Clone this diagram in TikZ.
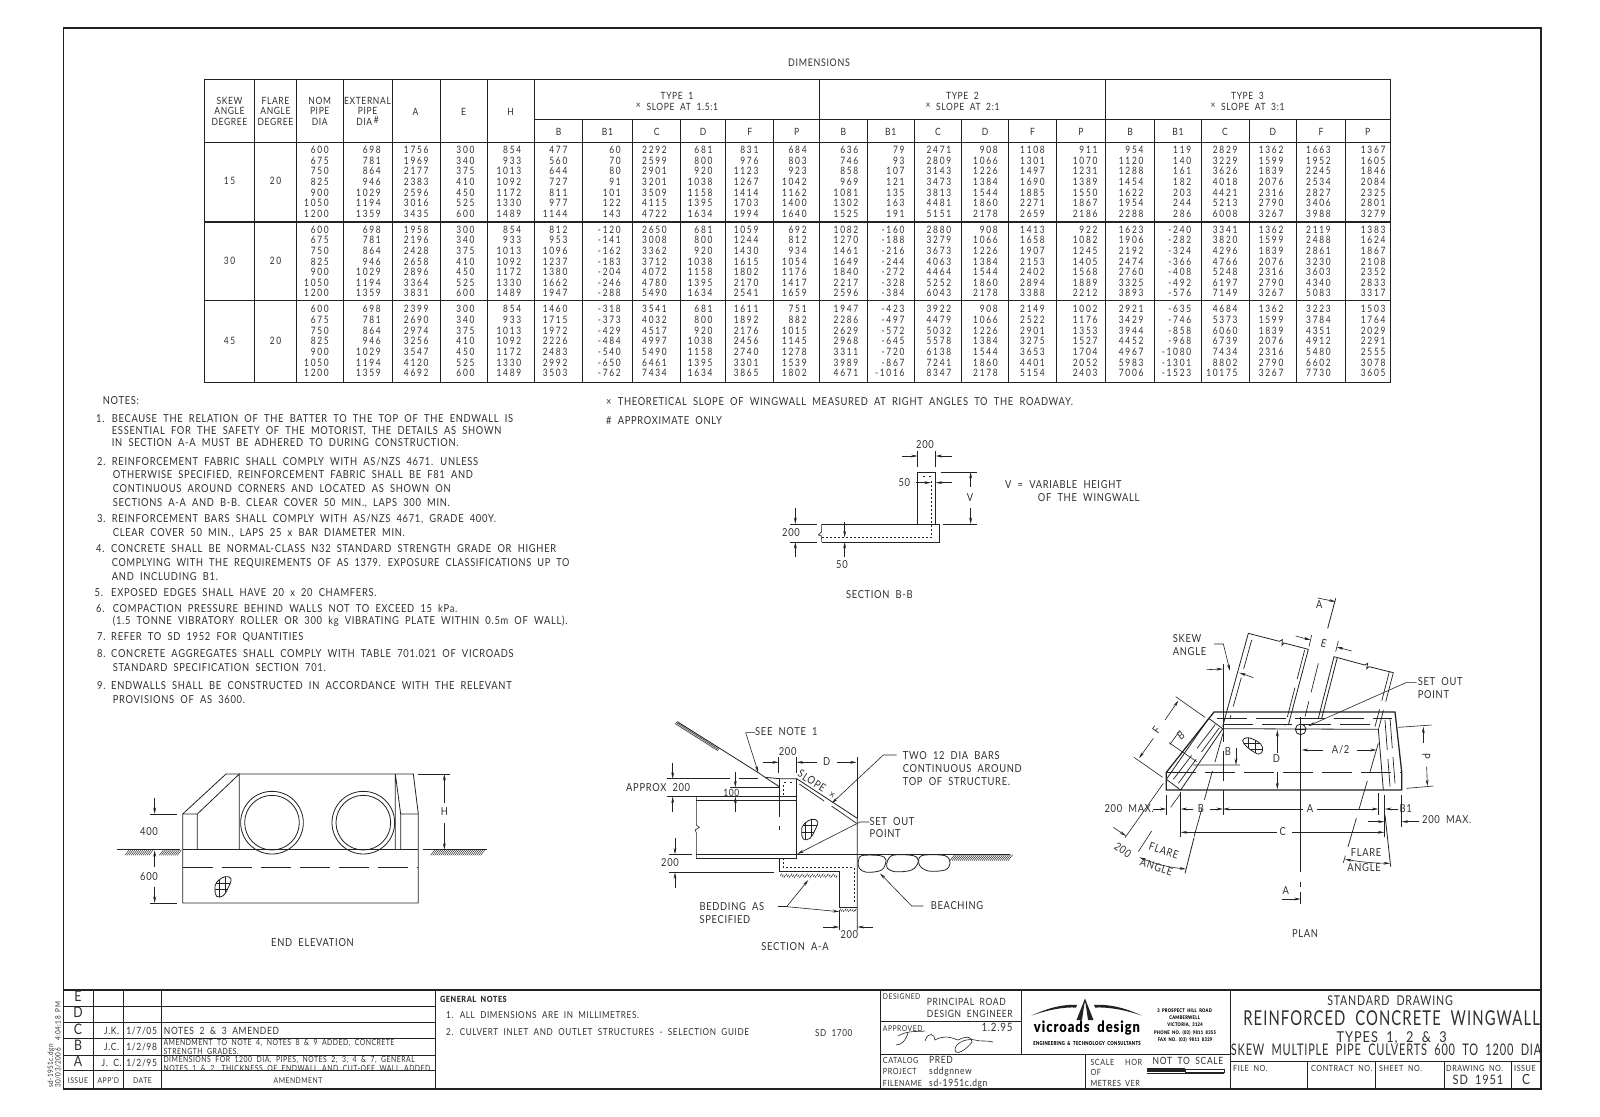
\documentclass[tikz,border=0pt]{standalone}
\usepackage{fontspec}
\usepackage{graphicx}
\setmainfont{Lato}[FakeStretch=.85,LetterSpace=6.3,WordSpace=2,BoldFont={Lato Black}]
\newfontfamily\tabfont{Lato}[FakeStretch=.82,LetterSpace=17]
\usetikzlibrary{arrows.meta,calc}
\definecolor{ink}{HTML}{222222}
\definecolor{txt}{HTML}{303030}
\tikzset{
 lbl/.style={inner sep=0pt,text=txt,yshift=-1pt,font=\fontsize{11}{13}\selectfont},
 ln/.style={line width=.8pt,draw=ink},
 thn/.style={line width=.6pt,draw=ink},
 hat/.style={line width=.45pt,draw=ink},
 thk/.style={line width=1.25pt,draw=ink},
 dsh/.style={line width=.7pt,draw=ink,dash pattern=on 30pt off 9pt},
 dot/.style={line width=.6pt,draw=ink,dash pattern=on 2pt off 2pt},
 dim/.style={line width=.6pt,draw=ink,-{Stealth[length=6.5pt,width=2.8pt]}},
 dbl/.style={line width=.6pt,draw=ink,{Stealth[length=6.5pt,width=2.8pt]}-{Stealth[length=6.5pt,width=2.8pt]}},
 zoomed/.style={shift={(#1)},scale=0.33333}
}
\newcounter{tn}
\newcommand\T[4][]{\stepcounter{tn}\node[lbl,anchor=mid west,#1] (t\arabic{tn}) at (#2,#3) {#4};}
\newcommand\C[4][]{\stepcounter{tn}\node[lbl,anchor=mid,#1] (t\arabic{tn}) at (#2,#3) {#4};}
\newcommand\TS{\fontsize{10}{12}\selectfont}
\newcommand\TD{\tabfont\fontsize{10.2}{12}\selectfont}
\newcommand\TN{\fontsize{9.6}{11}\selectfont}
\newcommand\TM{\fontsize{8.5}{10}\selectfont}
\newcommand\col[2]{\foreach \v [count=\i from 0] in {#2}{%
  \pgfmathsetmacro\yy{150+79.7*int(\i/7)+10.62*mod(\i,7)}%
  \stepcounter{tn}\node[lbl,anchor=mid east,font=\TD] (t\arabic{tn}) at (#1,\yy) {\v};}}
\newcommand\blobat[2]{%
 \begin{scope}[shift={(#1,#2)}]
 \draw[ln] plot[smooth cycle,tension=.7] coordinates {(5,20)(30,3)(48,10)(40,35)(25,60)(5,62)(0,40)};
 \begin{scope}\clip plot[smooth cycle,tension=.7] coordinates {(5,20)(30,3)(48,10)(40,35)(25,60)(5,62)(0,40)};
 \draw[thn] (-5,22)--(55,22) (-5,42)--(55,42) (12,0)--(12,70) (30,0)--(30,70);\end{scope}
 \end{scope}}
\newcommand\plotblob{%
 \draw[ln] plot[smooth cycle,tension=.7] coordinates {(518,512)(532,503)(552,509)(572,522)(578,540)(568,552)(552,546)(530,530)};
 \begin{scope}\clip plot[smooth cycle,tension=.7] coordinates {(518,512)(532,503)(552,509)(572,522)(578,540)(568,552)(552,546)(530,530)};
 \draw[thn] (510,520)--(585,520) (510,538)--(585,538) (536,500)--(536,555) (556,500)--(556,555);\end{scope}}
\begin{document}
\begin{tikzpicture}[x=1pt,y=-1pt]
\useasboundingbox[fill=white] (0,0) rectangle (1600,1116);
% outer border
\draw[thk] (63.3,28) rectangle (1541,1089);
\C[font=\fontsize{10.5}{12}\selectfont]{819}{62.5}{DIMENSIONS}
% ---------- TABLE
\draw[ln] (204.6,79) rectangle (1390,382.7);
\draw[ln] (534.4,119.7)--(1390,119.7);
\draw[ln] (204.6,142.7)--(1390,142.7);
\draw[thk] (204.6,222)--(1390,222) (204.6,300.3)--(1390,300.3);
\foreach \x in {254.5,296.4,343,392,439.9,487,534.4,819.7,1105.3}{\draw[ln] (\x,79)--(\x,382.7);}
\foreach \x in {582.6,632.5,680.7,725.8,773.6,867,914.5,961.6,1008.6,1056.4,1154.6,1201.2,1249,1296.8,1345.3}{\draw[ln] (\x,119.7)--(\x,382.7);}
\foreach \x/\a/\b/\c in {229.5/SKEW/ANGLE/DEGREE,275.5/FLARE/ANGLE/DEGREE,319.7/NOM/PIPE/DIA}{
 \C[font=\TS]{\x}{100.5}{\a}\C[font=\TS]{\x}{111}{\b}\C[font=\TS]{\x}{122}{\c}}
\C[font=\TS]{367.5}{100.5}{EXTERNAL}\C[font=\TS]{367.5}{111}{PIPE}\C[font=\TS]{367.5}{122}{DIA\,\raisebox{2pt}{\#}}
\C[font=\TS]{415.5}{111.5}{A}\C[font=\TS]{463.5}{111.5}{E}\C[font=\TS]{510.7}{111.5}{H}
\foreach \x/\t/\s in {677/1/1.5:1,962.5/2/2:1,1247.5/3/3:1}{
 \C[font=\TS]{\x}{95.5}{TYPE \t}\C[font=\TS]{\x}{106.5}{\raisebox{2pt}{×} SLOPE AT \s}}
\foreach \x/\t in {558.5/B,607.5/B1,656.6/C,703.2/D,749.7/F,796.6/P,843.3/B,890.7/B1,938/C,985.1/D,1032.5/F,1080.8/P,1130/B,1177.9/B1,1225/C,1272.9/D,1321/F,1367.6/P}{
 \C[font=\TS]{\x}{131.5}{\t}}
\C[font=\TD]{229.5}{181}{15}\C[font=\TD]{275.5}{181}{20}
\C[font=\TD]{229.5}{261}{30}\C[font=\TD]{275.5}{261}{20}
\C[font=\TD]{229.5}{341}{45}\C[font=\TD]{275.5}{341}{20}
\col{329}{600,675,750,825,900,1050,1200,600,675,750,825,900,1050,1200,600,675,750,825,900,1050,1200}
\col{381}{698,781,864,946,1029,1194,1359,698,781,864,946,1029,1194,1359,698,781,864,946,1029,1194,1359}
\col{428.8}{1756,1969,2177,2383,2596,3016,3435,1958,2196,2428,2658,2896,3364,3831,2399,2690,2974,3256,3547,4120,4692}
\col{474.7}{300,340,375,410,450,525,600,300,340,375,410,450,525,600,300,340,375,410,450,525,600}
\col{521.4}{854,933,1013,1092,1172,1330,1489,854,933,1013,1092,1172,1330,1489,854,933,1013,1092,1172,1330,1489}
\col{567.6}{477,560,644,727,811,977,1144,812,953,1096,1237,1380,1662,1947,1460,1715,1972,2226,2483,2992,3503}
\col{621}{60,70,80,91,101,122,143,-120,-141,-162,-183,-204,-246,-288,-318,-373,-429,-484,-540,-650,-762}
\col{667}{2292,2599,2901,3201,3509,4115,4722,2650,3008,3362,3712,4072,4780,5490,3541,4032,4517,4997,5490,6461,7434}
\col{712.7}{681,800,920,1038,1158,1395,1634,681,800,920,1038,1158,1395,1634,681,800,920,1038,1158,1395,1634}
\col{758.6}{831,976,1123,1267,1414,1703,1994,1059,1244,1430,1615,1802,2170,2541,1611,1892,2176,2456,2740,3301,3865}
\col{806.8}{684,803,923,1042,1162,1400,1640,692,812,934,1054,1176,1417,1659,751,882,1015,1145,1278,1539,1802}
\col{858.5}{636,746,858,969,1081,1302,1525,1082,1270,1461,1649,1840,2217,2596,1947,2286,2629,2968,3311,3989,4671}
\col{904.7}{79,93,107,121,135,163,191,-160,-188,-216,-244,-272,-328,-384,-423,-497,-572,-645,-720,-867,-1016}
\col{951.4}{2471,2809,3143,3473,3813,4481,5151,2880,3279,3673,4063,4464,5252,6043,3922,4479,5032,5578,6138,7241,8347}
\col{998}{908,1066,1226,1384,1544,1860,2178,908,1066,1226,1384,1544,1860,2178,908,1066,1226,1384,1544,1860,2178}
\col{1045}{1108,1301,1497,1690,1885,2271,2659,1413,1658,1907,2153,2402,2894,3388,2149,2522,2901,3275,3653,4401,5154}
\col{1097.7}{911,1070,1231,1389,1550,1867,2186,922,1082,1245,1405,1568,1889,2212,1002,1176,1353,1527,1704,2052,2403}
\col{1143.7}{954,1120,1288,1454,1622,1954,2288,1623,1906,2192,2474,2760,3325,3893,2921,3429,3944,4452,4967,5983,7006}
\col{1191.4}{119,140,161,182,203,244,286,-240,-282,-324,-366,-408,-492,-576,-635,-746,-858,-968,-1080,-1301,-1523}
\col{1237.7}{2829,3229,3626,4018,4421,5213,6008,3341,3820,4296,4766,5248,6197,7149,4684,5373,6060,6739,7434,8802,10175}
\col{1283.6}{1362,1599,1839,2076,2316,2790,3267,1362,1599,1839,2076,2316,2790,3267,1362,1599,1839,2076,2316,2790,3267}
\col{1331}{1663,1952,2245,2534,2827,3406,3988,2119,2488,2861,3230,3603,4340,5083,3223,3784,4351,4912,5480,6602,7730}
\col{1385.7}{1367,1605,1846,2084,2325,2801,3279,1383,1624,1867,2108,2352,2833,3317,1503,1764,2029,2291,2555,3078,3605}
% ---------- NOTES
\T{102.7}{400.7}{NOTES:}
\T{96}{418.7}{1.}\T{111.7}{418.7}{BECAUSE THE RELATION OF THE BATTER TO THE TOP OF THE ENDWALL IS}
\T{111.7}{430.7}{ESSENTIAL FOR THE SAFETY OF THE MOTORIST, THE DETAILS AS SHOWN}
\T{111.7}{442.7}{IN SECTION A-A MUST BE ADHERED TO DURING CONSTRUCTION.}
\T{97}{461.7}{2.}\T{111.7}{461.7}{REINFORCEMENT FABRIC SHALL COMPLY WITH AS/NZS 4671. UNLESS}
\T{112.7}{475.3}{OTHERWISE SPECIFIED, REINFORCEMENT FABRIC SHALL BE F81 AND}
\T{112.7}{489}{CONTINUOUS AROUND CORNERS AND LOCATED AS SHOWN ON}
\T{112.7}{502.7}{SECTIONS A-A AND B-B. CLEAR COVER 50 MIN., LAPS 300 MIN.}
\T{97}{519.3}{3.}\T{111.7}{519.3}{REINFORCEMENT BARS SHALL COMPLY WITH AS/NZS 4671, GRADE 400Y.}
\T{112.7}{533.3}{CLEAR COVER 50 MIN., LAPS 25 x BAR DIAMETER MIN.}
\T{96}{549.3}{4.}\T{111}{549.3}{CONCRETE SHALL BE NORMAL-CLASS N32 STANDARD STRENGTH GRADE OR HIGHER}
\T{111.7}{563}{\scalebox{.98}[1]{COMPLYING WITH THE REQUIREMENTS OF AS 1379. EXPOSURE CLASSIFICATIONS UP TO}}
\T{111.7}{576.7}{AND INCLUDING B1.}
\T{94.5}{593.3}{5.}\T{111}{593.3}{EXPOSED EDGES SHALL HAVE 20 x 20 CHAMFERS.}
\T{96}{609}{6.}\T{112.7}{609}{COMPACTION PRESSURE BEHIND WALLS NOT TO EXCEED 15 kPa.}
\T{112.7}{621}{(1.5 TONNE VIBRATORY ROLLER OR 300 kg VIBRATING PLATE WITHIN 0.5m OF WALL).}
\T{97}{636.7}{7.}\T{111}{636.7}{REFER TO SD 1952 FOR QUANTITIES}
\T{97}{654.3}{8.}\T{111}{654.3}{CONCRETE AGGREGATES SHALL COMPLY WITH TABLE 701.021 OF VICROADS}
\T{112.7}{668}{STANDARD SPECIFICATION SECTION 701.}
\T{97}{686}{9.}\T{111}{686}{ENDWALLS SHALL BE CONSTRUCTED IN ACCORDANCE WITH THE RELEVANT}
\T{112.7}{700}{PROVISIONS OF AS 3600.}
\T{606}{401.5}{× THEORETICAL SLOPE OF WINGWALL MEASURED AT RIGHT ANGLES TO THE ROADWAY.}
\T{606}{420.5}{\# APPROXIMATE ONLY}
% ---------- SECTION B-B
\begin{scope}[zoomed={740,420}]
\draw[ln] (533,312)--(533,156)--(587,156)--(587,312);
\draw[ln] (245,312)--(597,312)--(597,366)--(245,366);
\draw[thn] (245,312)--(245,335)--(235,345)--(245,348)--(245,366);
\draw[dot] (245,352)--(573,352)--(573,180);
\draw[dot] (550,170)--(556,170) (568,170)--(574,170);
\draw[dim] (487,108)--(533,108);\draw[dim] (635,108)--(587,108);
\draw[thn] (533,92)--(533,140) (587,92)--(587,140);
\C{555}{76}{200}
\C{493}{190}{50}
\draw[dim] (527,188)--(573,188);\draw[dim] (635,188)--(587,188);
\draw[thn] (602,156)--(710,156) (610,312)--(710,312);
\draw[dim] (692,200)--(692,156);\draw[dim] (692,265)--(692,312);
\C{690}{233}{V}
\draw[thn] (150,312)--(230,312) (150,366)--(230,366);
\draw[dim] (166,265)--(166,312);\draw[dim] (166,412)--(166,366);
\C{153}{340}{200}
\draw[dim] (314,305)--(314,352);\draw[dim] (314,412)--(314,366);
\C{306}{435}{50}
\T{795}{196}{V = VARIABLE HEIGHT}
\T{893}{234}{OF THE WINGWALL}
\C{418}{524}{SECTION B-B}
\end{scope}
% ---------- PLAN
\begin{scope}[zoomed={1070,570}]
\draw[thk] (289,607)--(289,660)--(995,660)--(995,605)--(975,426)--(432,426)--cycle;
\draw[ln] (289,628)--(416,445)--(458,476)--(332,660)--(289,628);
\draw[ln] (458,476)--(925,478)--(940,660);
\draw[dsh] (440,444)--(965,444) (460,462)--(925,462) (289,607)--(995,607);
\draw[dsh] (945,450)--(960,650) (960,445)--(975,640) (310,628)--(440,458) (325,640)--(452,468);
\draw[ln] (459,282)--(459,425);\draw[dsh] (459,425)--(459,735);
\draw[ln] (470,425)--(535,190)--(628,214)--(637,209)--(636,226)--(642,219)--(715,238)--(655,465);
\draw[dsh] (545,210)--(480,445);\draw[dsh] (704,240)--(645,468);\draw[ln] (470,425)--(458,470);
\draw[ln] (745,445)--(792,260)--(884,285)--(893,280)--(890,296)--(897,290)--(970,308);
\draw[ln] (755,445)--(802,262);
\draw[dsh] (970,308)--(925,480);\draw[dsh] (958,305)--(915,470);
\draw[ln] (797,85)--(773,175);\draw[dsh] (745,280)--(705,440);
\draw[dim] (743,84)--(797,95);\C{748}{105}{A}
\draw[thn] (692,440)--(692,905);\draw[thn] (692,935)--(692,950) (692,965)--(692,1002);
\draw[dim] (637,987)--(692,987);\C{647}{963}{A}
\draw[dim] (677,198)--(722,210);\draw[dim] (845,243)--(800,231);
\draw[thn] (725,195)--(717,230) (805,213)--(797,245);
\C[rotate=-15]{760}{220}{E}
\T{308}{208}{SKEW}\T{308}{247}{ANGLE}
\draw[dim] (432,222)--(460,222)--(480,303);
\draw[dim] (410,299)--(459,297);\draw[dim] (550,323)--(508,308);
\draw[dsh] (459,490)--(372,800);\draw[ln] (372,803)--(345,910);
\draw[dsh] (925,520)--(820,878);\draw[ln] (945,735)--(962,890);
\draw[thn] (317,380)--(405,442) (192,562)--(278,622);
\draw[dim] (285,450)--(325,392);\draw[dim] (250,505)--(207,565);
\C[rotate=55]{263}{480}{F}
\draw[thn] (330,481)--(300,523) (297,518)--(380,575) (370,585)--(510,585);
\C[rotate=35]{335}{497}{B}
\C{474}{547}{B}\draw[dim] (498,535)--(498,585);
\draw[dim] (622,548)--(622,480);\draw[dim] (622,605)--(622,658);\C{619}{568}{D}
\draw[dim] (760,540)--(695,540);\draw[dim] (860,540)--(920,540);\C{812}{540}{A/2}
\draw[ln] (692,478) circle (16);\draw[thn] (676,478)--(708,478);
\plotblob
\draw[dim] (1040,337)--(1010,337)--(715,468);
\T{1043}{337}{SET OUT}\T{1043}{375}{POINT}
\draw[thn] (985,472)--(1085,465) (1010,655)--(1090,648);
\draw[dim] (1060,520)--(1060,470);\draw[dim] (1070,590)--(1072,648);
\C[rotate=-90]{1065}{555}{P}
\draw[thn] (289,675)--(289,735) (332,665)--(332,800) (925,670)--(925,735) (943,675)--(943,800) (995,675)--(995,770);
\T{103}{717}{200 MAX.}\draw[dim] (248,717)--(289,717);
\draw[dim] (370,717)--(332,717);\draw[dim] (420,717)--(459,717);\C{393}{717}{B}
\draw[dim] (700,717)--(459,717);\draw[dim] (740,717)--(925,717);\C{720}{717}{A}
\draw[dim] (985,717)--(945,717);\C{1007}{717}{B1}
\draw[dim] (895,755)--(943,755);\draw[dim] (1048,755)--(995,755);\T{1056}{750}{200 MAX.}
\draw[dim] (620,787)--(332,787);\draw[dim] (665,787)--(943,787);\C{638}{787}{C}
\draw[thn] (280,640)--(165,803) (330,673)--(302,712) (245,783)--(205,845);
\draw[dim] (130,772)--(168,798);
\C[rotate=-35]{156}{840}{200}
\draw[dbl] (208,862) to[bend right=8] (348,897);
\C[rotate=-18]{280}{843}{FLARE}\C[rotate=-18]{258}{892}{ANGLE}
\draw[dbl] (825,868) to[bend right=4] (960,880);
\C{888}{850}{FLARE}\C{882}{895}{ANGLE}
\end{scope}
\C{1305}{934}{PLAN}
% ---------- SECTION A-A
\begin{scope}[zoomed={600,690}]
\draw[ln] (232,95)--(475,248)--(495,262)--(538,266)--(590,266)--(772,385)--(772,722);
\foreach \i in {0,...,42}{\draw[hat] ({232+\i*3},{95+\i*1.9})--++(-7,8);}
\draw[ln] (495,262)--(538,290);
\draw[dsh] (598,282)--(770,400);
\draw[ln] (538,266)--(538,292) (590,266)--(590,505);
\draw[dsh] (538,292)--(538,420);
\draw[ln] (538,505)--(538,545)--(718,545)--(718,652)--(772,652);
\draw[ln] (289,320)--(590,320) (289,332)--(590,332);
\draw[thk] (289,493)--(1050,493);
\draw[ln] (289,505)--(590,505);
\draw[thn] (289,320)--(289,405)--(298,412)--(285,420)--(289,428)--(289,505);
\draw[dot] (550,505)--(550,532)--(762,532)--(762,640);
\draw[dot] (550,285)--(550,318);\draw[dot] (552,278)--(558,278) (570,278)--(576,278);
\foreach \i in {0,...,32}{\draw[thn] ({545+\i*5.2},{551+mod(\i,3)*3})--++(-4,6);}
\foreach \i in {0,...,9}{\draw[thn] ({722+\i*5.2},{656+mod(\i,3)*2})--++(-3,6);}
\draw[thn] (1050,493)--(1230,493);
\foreach \i in {0,...,29}{\draw[hat] ({1050+\i*6},{512})--++(14,-18);}
\draw[ln] plot[smooth cycle,tension=.55] coordinates {(785,497)(840,497)(858,510)(845,540)(800,547)(778,535)(775,515)};
\draw[ln] plot[smooth cycle,tension=.55] coordinates {(875,497)(940,497)(955,515)(935,540)(885,545)(860,530)};
\draw[ln] plot[smooth cycle,tension=.55] coordinates {(965,497)(1035,497)(1050,520)(1035,540)(985,543)(958,525)};
\draw[thn] (536,200)--(536,250) (590,200)--(590,250) (772,200)--(772,385);
\draw[dim] (490,217)--(536,217);\C{563}{186}{200}
\draw[dim] (650,217)--(590,217);\draw[dim] (712,217)--(770,217);\C{680}{217}{D}
\draw[dim] (465,128)--(437,128)--(475,248);\T{465}{127}{SEE NOTE 1}
\draw[dim] (890,195)--(850,195)--(695,340);
\T{908}{198}{TWO 12 DIA BARS}\T{908}{237}{CONTINUOUS AROUND}\T{908}{275}{TOP OF STRUCTURE.}
\C[rotate=-33]{648}{283}{SLOPE ×}
\draw[dim] (808,396)--(780,396)--(592,492);\T{808}{396}{SET OUT}\T{808}{433}{POINT}
\T{78}{293}{APPROX 200}
\draw[thn] (200,266)--(390,266) (418,266)--(475,266) (200,319)--(290,319) (390,292)--(538,292);
\draw[dim] (218,218)--(218,266);\draw[dim] (218,367)--(218,320);
\C[font=\fontsize{10}{11}\selectfont]{394}{308}{100}
\draw[dim] (406,245)--(406,292);\draw[dim] (406,367)--(406,320);
\C{210}{519}{200}
\draw[thn] (207,493)--(275,493) (207,546)--(522,546);
\draw[dim] (225,445)--(225,493);\draw[dim] (225,595)--(225,547);
\T{298}{652}{BEDDING AS}\T{298}{690}{SPECIFIED}
\draw[thn] (533,650)--(560,650);
\draw[dim] (560,650)--(625,570);\draw[dim] (560,650)--(718,665);
\T{992}{648}{BEACHING}
\draw[dim] (970,648)--(935,648)--(840,550);
\draw[thn] (718,660)--(718,720);
\draw[dim] (670,711)--(718,711);\draw[dim] (820,711)--(772,711);\C{748}{735}{200}
\blobat{605}{385}
\end{scope}
\C{795}{947}{SECTION A-A}
% ---------- END ELEVATION
\begin{scope}[zoomed={100,740}]
\draw[ln] (248,329)--(955,329);
\draw[ln] (248,222)--(248,489)--(955,489)--(955,222)--(940,102)--(378,102)--cycle;
\draw[ln] (248,222)--(292,222)--(292,329) (292,222)--(418,102)--(418,329);
\draw[ln] (886,102)--(886,329) (886,102)--(902,222)--(902,329) (902,222)--(955,222);
\draw[dsh] (248,382)--(955,382);
\draw[ln] (516,248) circle (94) (516,248) circle (82) (790,248) circle (94) (790,248) circle (82);
\draw[thn] (50,329)--(240,329) (968,329)--(1160,329);
\foreach \x in {75,81,...,152,178,184,...,232}{\draw[hat] (\x,346)--++(12,-16);}
\foreach \x in {992,998,...,1142}{\draw[hat] (\x,346)--++(12,-16);}
\draw[thn] (150,222)--(232,222) (150,489)--(232,489) (955,102)--(1050,102);
\draw[dim] (164,175)--(164,222);\draw[dim] (164,380)--(164,331);\draw[dim] (164,440)--(164,489);
\C{147}{277}{400}\C{147}{412}{600}
\draw[dim] (1033,190)--(1033,102);\draw[dim] (1033,250)--(1033,329);\C{1033}{216}{H}
\blobat{345}{407}
\end{scope}
\C{312.5}{943}{END ELEVATION}
% ---------- TITLE BLOCK
\draw[thk] (63.3,990)--(1541,990);
\draw[ln] (93,990)--(93,1089) (123.7,990)--(123.7,1089) (161.3,990)--(161.3,1089);
\draw[ln] (435,990)--(435,1089);
\draw[ln] (63.3,1006)--(435,1006) (63.3,1022.3)--(435,1022.3) (63.3,1038.7)--(435,1038.7) (63.3,1055)--(435,1055) (63.3,1070.7)--(435,1070.7);
\draw[ln] (880,990)--(880,1089) (1021.7,990)--(1021.7,1054.3) (880,1021.7)--(1021.7,1021.7) (880,1054.3)--(1230.7,1054.3) (1085.7,1054.3)--(1085.7,1089);
\draw[ln] (1230.7,990)--(1230.7,1089) (1230.7,1061.7)--(1541,1061.7);
\draw[ln] (1307.7,1061.7)--(1307.7,1089) (1375.7,1061.7)--(1375.7,1089) (1444,1061.7)--(1444,1089) (1511.7,1061.7)--(1511.7,1089);
\foreach \l/\y in {E/998,D/1014,C/1030.5,B/1047,A/1063}{\C[font=\fontsize{14.5}{16}\selectfont]{78}{\y}{\l}}
\C[font=\fontsize{8}{9}\selectfont]{78}{1080}{ISSUE}\C[font=\fontsize{8}{9}\selectfont]{108.3}{1080}{APP'D}\C[font=\fontsize{8}{9}\selectfont]{142.5}{1080}{DATE}\C[font=\fontsize{8}{9}\selectfont]{298}{1080}{AMENDMENT}
\C[font=\TS]{111.7}{1030.7}{J.K.}\C[font=\TS]{141.7}{1030.7}{1/7/05}\T[font=\TS]{163.7}{1030.7}{NOTES 2 \& 3 AMENDED}
\C[font=\TS]{111.7}{1047}{J.C.}\C[font=\TS]{141.7}{1047}{1/2/98}
\T[font=\TM]{163.3}{1042.3}{\scalebox{.95}[1]{AMENDMENT TO NOTE 4, NOTES 8 \& 9 ADDED, CONCRETE}}
\T[font=\TM]{163.3}{1051}{\scalebox{.95}[1]{STRENGTH GRADES.}}
\C[font=\TS]{111.7}{1063}{J. C.}\C[font=\TS]{141.7}{1063}{1/2/95}
\T[font=\TM]{163.3}{1059}{\scalebox{.95}[1]{DIMENSIONS FOR 1200 DIA. PIPES, NOTES 2, 3, 4 \& 7, GENERAL}}
\T[font=\TM]{163.3}{1067.7}{\scalebox{.95}[1]{NOTES 1 \& 2. THICKNESS OF ENDWALL AND CUT-OFF WALL ADDED.}}
\T[rotate=90,font=\fontsize{7.5}{9}\selectfont]{50.5}{1087}{sd-1951c.dgn}
\T[rotate=90,font=\fontsize{7.5}{9}\selectfont]{58}{1087}{30/03/2006\quad 4:04:18 PM}
\T[font=\fontsize{8.5}{10}\bfseries]{440}{998.7}{GENERAL NOTES}
\T[font=\TN]{446}{1015.3}{1. ALL DIMENSIONS ARE IN MILLIMETRES.}
\T[font=\TN]{446}{1031.7}{2. CULVERT INLET AND OUTLET STRUCTURES - SELECTION GUIDE}
\C[font=\TN]{833.7}{1032.7}{SD 1700}
\T[font=\fontsize{8}{10}\selectfont]{882.7}{996}{DESIGNED}
\T[font=\TS]{926.7}{1001.7}{PRINCIPAL ROAD}\T[font=\TS]{926.7}{1013.7}{DESIGN ENGINEER}
\T[font=\fontsize{8}{10}\selectfont]{882.7}{1028}{APPROVED}
\C[font=\fontsize{11.5}{13}\selectfont]{997}{1028.3}{1.2.95}
\draw[thn] (898,1036) .. controls (908,1030) and (918,1032) .. (925,1031) (908,1033) .. controls (906,1040) and (902,1045) .. (896,1045);
\draw[thn] (925,1041) .. controls (928,1031) and (935,1034) .. (935,1040) .. controls (942,1036) and (948,1036) .. (958,1040) .. controls (966,1036) and (972,1036) .. (972,1042) .. controls (966,1050) and (956,1056) .. (955,1050) .. controls (955,1042) and (968,1038) .. (975,1040) .. controls (982,1042) and (985,1040) .. (993,1042);
\T[font=\TM]{882.7}{1060}{CATALOG}\T[font=\TS]{929}{1060}{PRED}
\T[font=\TM]{882.7}{1070.7}{PROJECT}\T[font=\TS]{929}{1070.7}{sddgnnew}
\T[font=\TM]{882.7}{1082.6}{FILENAME}\T[font=\TS]{929}{1082.6}{sd-1951c.dgn}
\T[font=\TM]{1090.3}{1061.7}{SCALE}\T[font=\TM]{1125}{1061.7}{HOR}
\T[font=\TM]{1090.3}{1072}{OF}
\T[font=\TM]{1090.3}{1083}{METRES}\T[font=\TM]{1125}{1083}{VER}
\C[font=\TS]{1188}{1060.5}{NOT TO SCALE}
\fill[ink] (1147,1068) rectangle (1185,1071.5);
\draw[ln] (1185,1069) rectangle (1224,1072.5);
\fill[ink] (1147,1072.5) rectangle (1224,1074);
% logo
\fill[ink] (1031.7,1015.5) .. controls (1050,1007) and (1065,1004) .. (1077,1005) -- (1076,1007.5) .. controls (1062,1007) and (1048,1010) .. (1031.7,1015.5) -- cycle;
\fill[ink] (1141.7,1015.5) .. controls (1123,1007) and (1108,1004) .. (1094,1005) -- (1095,1007.5) .. controls (1110,1007) and (1125,1010) .. (1141.7,1015.5) -- cycle;
\fill[ink] (1085,998.5) -- (1093.5,1020) -- (1088,1020) -- (1085.5,1003) -- (1084.5,1003) -- (1082,1020) -- (1076.5,1020) -- cycle;
\C[font=\fontsize{15.5}{18}\bfseries,text=black]{1087}{1028.5}{\scalebox{.98}[1]{vicroads design}}
\C[font=\fontsize{5.5}{7}\bfseries,text=black]{1087}{1041.7}{\scalebox{.9}[1]{ENGINEERING \& TECHNOLOGY CONSULTANTS}}
\foreach \t/\y in {3 PROSPECT HILL ROAD\,/1009.3,CAMBERWELL\,/1016,{VICTORIA, 3124}/1023.3,PHONE NO. (03) 9811 8355/1030.7,FAX NO. (03) 9811 8329/1037.7}{\C[font=\fontsize{5}{6}\bfseries,text=black]{1185}{\y}{\scalebox{.95}[1]{\t}}}
\C[font=\fontsize{13.5}{15}\selectfont]{1390}{1002.3}{\scalebox{.93}[1]{STANDARD DRAWING}}
\C[font=\fontsize{20.5}{23}\selectfont]{1391.5}{1022}{\scalebox{.85}[1]{REINFORCED CONCRETE WINGWALL}}
\C[font=\fontsize{15}{17}\selectfont]{1391.7}{1039.3}{TYPES 1, 2 \& 3}
\C[font=\fontsize{16}{18}\selectfont]{1386}{1052.3}{\scalebox{.81}[1]{SKEW MULTIPLE PIPE CULVERTS 600 TO 1200 DIA}}
\T[font=\TM]{1233}{1068}{FILE NO.}
\T[font=\TM]{1311}{1068}{CONTRACT NO.}
\T[font=\TM]{1379}{1068}{SHEET NO.}
\T[font=\TM]{1446}{1068}{DRAWING NO.}
\T[font=\TM]{1514}{1068}{ISSUE}
\C[font=\fontsize{13}{15}\selectfont]{1478}{1081}{SD 1951}
\C[font=\fontsize{14}{15}\selectfont]{1526}{1081}{C}
\end{tikzpicture}
\end{document}
